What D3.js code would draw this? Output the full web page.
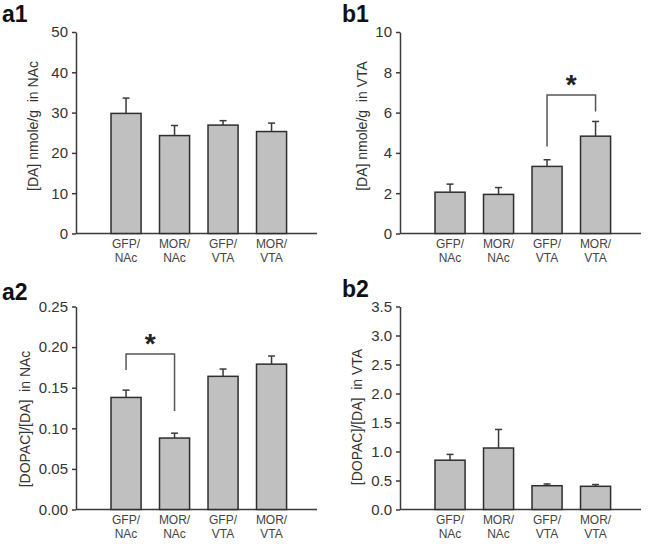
<!DOCTYPE html>
<html>
<head>
<meta charset="utf-8">
<script src="https://cdn.jsdelivr.net/npm/d3@7"></script>
<style>
  html, body { margin: 0; padding: 0; background: #fff; }
  svg { display: block; font-family: "Liberation Sans", Arial, sans-serif; }
</style>
</head>
<body>
<svg id="chart" width="651" height="546"></svg>
<script>
// ---- data ----
const categories = ["GFP/NAc", "MOR/NAc", "GFP/VTA", "MOR/VTA"];
const a1Values = [29.8, 24.3, 26.9, 25.3];
const a1Errors = [3.8, 2.5, 1.1, 2.1];
const b1Values = [2.05, 1.94, 3.33, 4.83];
const b1Errors = [0.40, 0.34, 0.33, 0.73];
const a2Values = [0.138, 0.088, 0.164, 0.179];
const a2Errors = [0.009, 0.006, 0.009, 0.010];
const b2Values = [0.85, 1.06, 0.41, 0.40];
const b2Errors = [0.10, 0.32, 0.03, 0.03];
const a1Ticks = [0, 10, 20, 30, 40, 50];
const b1Ticks = [0, 2, 4, 6, 8, 10];
const a2Ticks = [0, 0.05, 0.10, 0.15, 0.20, 0.25];
const b2Ticks = [0, 0.5, 1.0, 1.5, 2.0, 2.5, 3.0, 3.5];

const panels = [
  { label: "a1", values: a1Values, errors: a1Errors, ticks: a1Ticks, fmt: d3.format("d"),
    title: "[DA] nmole/g  in NAc", x0: 76, y0: 233.5, y1: 32, titleX: 38, titleY: 126, labelX: 2, labelY: 22,
    sig: null, bracket: null },
  { label: "b1", values: b1Values, errors: b1Errors, ticks: b1Ticks, fmt: d3.format("d"),
    title: "[DA] nmole/g  in VTA", x0: 400, y0: 233.5, y1: 32, titleX: 367, titleY: 126, labelX: 342, labelY: 22,
    sig: [2, 3], bracket: [95, 146.5, 111.5] },
  { label: "a2", values: a2Values, errors: a2Errors, ticks: a2Ticks, fmt: d3.format(".2f"),
    title: "[DOPAC]/[DA]  in NAc", x0: 76, y0: 509.5, y1: 306.5, titleX: 30, titleY: 419, labelX: 2, labelY: 300,
    sig: [0, 1], bracket: [354, 370, 411] },
  { label: "b2", values: b2Values, errors: b2Errors, ticks: b2Ticks, fmt: d3.format(".1f"),
    title: "[DOPAC]/[DA]  in VTA", x0: 400, y0: 509.5, y1: 306.5, titleX: 362, titleY: 417, labelX: 342, labelY: 297,
    sig: null, bracket: null }
];

const svg = d3.select("#chart");
const ink = "#3a3a3a";

panels.forEach(p => {
  const maxV = p.ticks[p.ticks.length - 1];
  const y = d3.scaleLinear().domain([0, maxV]).range([p.y0, p.y1]);
  const x = d3.scaleBand().domain(categories)
    .range([p.x0 + 25.8, p.x0 + 219.8]).paddingInner(0.38).paddingOuter(0.19);
  const g = svg.append("g");

  // panel label
  g.append("text").attr("x", p.labelX).attr("y", p.labelY)
    .attr("font-size", 23).attr("font-weight", "bold").attr("fill", "#111").text(p.label);

  // y axis
  const ay = g.append("g").attr("transform", `translate(${p.x0},0)`)
    .call(d3.axisLeft(y).tickValues(p.ticks).tickFormat(p.fmt).tickSize(4).tickSizeOuter(0).tickPadding(4));
  ay.select(".domain").attr("stroke", ink).attr("stroke-width", 1.5);
  ay.selectAll(".tick line").attr("stroke", ink).attr("stroke-width", 1.5);
  ay.selectAll(".tick text").attr("font-size", 15).attr("fill", "#333")
    .attr("font-family", "Liberation Sans, Arial, sans-serif");

  // x axis line
  g.append("line").attr("x1", p.x0).attr("x2", p.x0 + 241)
    .attr("y1", y(0)).attr("y2", y(0)).attr("stroke", ink).attr("stroke-width", 1.5);

  // y title
  g.append("text")
    .attr("transform", `translate(${p.titleX},${p.titleY}) rotate(-90)`)
    .attr("text-anchor", "middle").attr("font-size", 14).attr("fill", "#333")
    .style("white-space", "pre").attr("xml:space", "preserve")
    .text(p.title);

  // bars
  const data = categories.map((c, i) => ({ c, v: p.values[i], e: p.errors[i] }));
  g.selectAll("rect.bar").data(data).join("rect").attr("class", "bar")
    .attr("x", d => x(d.c)).attr("width", x.bandwidth())
    .attr("y", d => y(d.v)).attr("height", d => y(0) - y(d.v))
    .attr("fill", "#c0c0c0").attr("stroke", "#2e2e2e").attr("stroke-width", 1.5);

  // error bars (upper only)
  g.selectAll("line.err").data(data).join("line").attr("class", "err")
    .attr("x1", d => x(d.c) + x.bandwidth() / 2).attr("x2", d => x(d.c) + x.bandwidth() / 2)
    .attr("y1", d => y(d.v)).attr("y2", d => y(d.v + d.e))
    .attr("stroke", ink).attr("stroke-width", 1.5);
  g.selectAll("line.cap").data(data).join("line").attr("class", "cap")
    .attr("x1", d => x(d.c) + x.bandwidth() / 2 - 3.5).attr("x2", d => x(d.c) + x.bandwidth() / 2 + 3.5)
    .attr("y1", d => y(d.v + d.e)).attr("y2", d => y(d.v + d.e))
    .attr("stroke", ink).attr("stroke-width", 1.5);

  // x labels
  data.forEach(d => {
    const parts = d.c.split("/");
    const t = g.append("text").attr("text-anchor", "middle").attr("font-size", 12).attr("fill", "#444");
    t.append("tspan").attr("x", x(d.c) + x.bandwidth() / 2).attr("y", y(0) + 14).text(parts[0] + "/");
    t.append("tspan").attr("x", x(d.c) + x.bandwidth() / 2).attr("y", y(0) + 28.5).text(parts[1]);
  });

  // significance bracket
  if (p.sig && p.bracket) {
    const [i, j] = p.sig;
    const ci = x(categories[i]) + x.bandwidth() / 2;
    const cj = x(categories[j]) + x.bandwidth() / 2;
    const [top, leftBottom, rightBottom] = p.bracket;
    g.append("path")
      .attr("d", `M${ci},${leftBottom}V${top}H${cj}V${rightBottom}`)
      .attr("fill", "none").attr("stroke", "#555").attr("stroke-width", 1.5);
    g.append("text").attr("x", (ci + cj) / 2).attr("y", top - 1)
      .attr("text-anchor", "middle").attr("font-size", 28).attr("font-weight", "bold")
      .attr("fill", "#222").text("*");
  }
});
</script>
</body>
</html>
